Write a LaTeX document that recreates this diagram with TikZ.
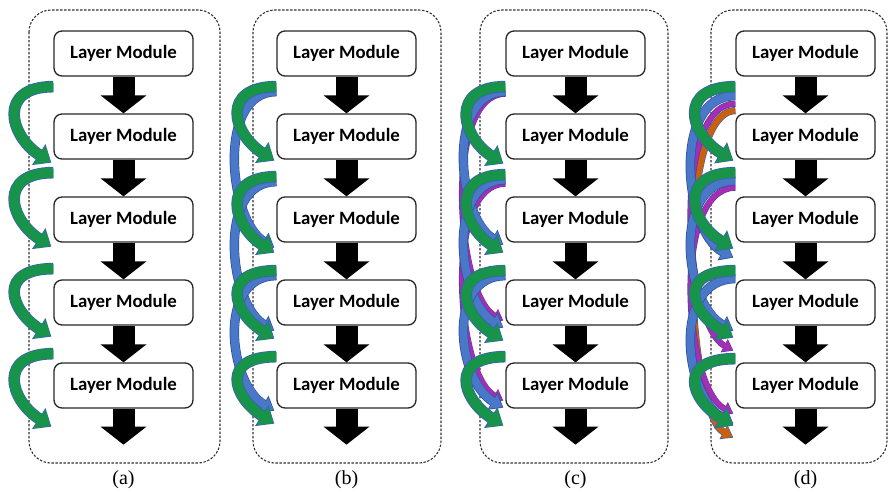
\documentclass[tikz,border=0pt]{standalone}
\usepackage{fontspec}
\setmainfont{Liberation Serif}
\newfontfamily\carlito{Carlito}
\usetikzlibrary{arrows.meta,calc}

\definecolor{skipgreen}{HTML}{17944A}
\definecolor{skipgreenedge}{HTML}{3A62B4}
\definecolor{skipblue}{HTML}{4A78C8}
\definecolor{skipblueedge}{HTML}{2E4F9E}
\definecolor{skippurple}{HTML}{A42FB4}
\definecolor{skippurpleedge}{HTML}{5B3A9E}
\definecolor{skiporange}{HTML}{C9600F}
\definecolor{skiporangeedge}{HTML}{3A5FB0}
\definecolor{boxedge}{HTML}{262626}

\tikzset{
  layer/.style={draw=boxedge, line width=1.3pt, rounded corners=8pt, fill=white,
    minimum width=139pt, minimum height=45pt, inner sep=0pt,
    font=\carlito\bfseries\fontsize{18.8}{22}\selectfont},
  flow/.style={line width=22pt, -{Triangle[width=45pt,length=18pt]}},
  frame/.style={draw=black!80, line width=1.1pt, dash pattern=on 2.4pt off 1.6pt, rounded corners=22pt},
  caption/.style={font=\fontsize{20}{24}\selectfont},
  gEdge/.style={draw=skipgreenedge, line width=11.6pt, -{Triangle[width=24pt,length=15pt]}},
  gFill/.style={draw=skipgreen, line width=10pt, shorten >=1.1pt, -{Triangle[width=21pt,length=13pt]}},
  bEdge/.style={draw=skipblueedge, line width=9.4pt, -{Triangle[width=19pt,length=12.6pt]}},
  bFill/.style={draw=skipblue, line width=8pt, shorten >=1pt, -{Triangle[width=16pt,length=11pt]}},
  pEdge/.style={draw=skippurpleedge, line width=6.2pt, -{Triangle[width=14.5pt,length=10.4pt]}},
  pFill/.style={draw=skippurple, line width=5pt, shorten >=0.9pt, -{Triangle[width=12pt,length=9pt]}},
  oEdge/.style={draw=skiporangeedge, line width=7.2pt, -{Triangle[width=15.5pt,length=11.4pt]}},
  oFill/.style={draw=skiporange, line width=6pt, shorten >=0.9pt, -{Triangle[width=13pt,length=10pt]}},
}

% skip ribbon: #1 kind, #2 panel, #3 source layer, #4 target layer,
% #5 tail drop below source, #6 head drop below target, #7 reach to the left
\newcommand\skiplink[7]{%
  \draw[#1Edge] ($(#2#3.south west)+(0,#5)$)
    .. controls ($(#2#3.south west)+(-#7,#5)$) and ($(#2#4.south west)+(12-#7,#6-27)$)
    .. ($(#2#4.south west)+(-2,#6)$);
  \draw[#1Fill] ($(#2#3.south west)+(0,#5)$)
    .. controls ($(#2#3.south west)+(-#7,#5)$) and ($(#2#4.south west)+(12-#7,#6-27)$)
    .. ($(#2#4.south west)+(-2,#6)$);
}

\begin{document}
\begin{tikzpicture}[x=1pt,y=-1pt]
\useasboundingbox (0,0) rectangle (891,496);

% dashed panel frames
\draw[frame] (29,10) rectangle (220,463);
\draw[frame] (253,10) rectangle (441,463);
\draw[frame] (480,10) rectangle (668,463);
\draw[frame] (711,10) rectangle (887,463);

% layer stacks with the main data flow
\foreach \p/\cx in {a/123.5, b/346.5, c/575.5, d/805.5} {
  \foreach \k/\cy in {1/53.5, 2/136.5, 3/219.5, 4/302.5, 5/385.5}
    \node[layer] (\p\k) at (\cx,\cy) {Layer Module};
  \coordinate (\p out) at ($(\p5.south)+(0,36)$);
  \draw[flow] (\p1.south) -- (\p2.north);
  \draw[flow] (\p2.south) -- (\p3.north);
  \draw[flow] (\p3.south) -- (\p4.north);
  \draw[flow] (\p4.south) -- (\p5.north);
  \draw[flow] (\p5.south) -- (\p out);
  \node[caption] (\p cap) at (\cx,480) {(\p)};
}

% (a) single-step skips
\skiplink{g}{a}{1}{2}{10}{3}{56}
\skiplink{g}{a}{2}{3}{13}{4}{56}
\skiplink{g}{a}{3}{4}{26}{11}{56}
\skiplink{g}{a}{4}{5}{28}{18}{56}

% (b) skips over one and two layers
\skiplink{b}{b}{1}{3}{15}{5}{60}
\skiplink{b}{b}{2}{4}{22}{5}{60}
\skiplink{b}{b}{3}{5}{33}{2}{60}
\skiplink{g}{b}{1}{2}{10}{1}{56}
\skiplink{g}{b}{2}{3}{17}{10}{56}
\skiplink{g}{b}{3}{4}{28}{13}{56}
\skiplink{g}{b}{4}{5}{31}{15}{56}

% (c) skips over up to three layers
\skiplink{p}{c}{1}{4}{17}{-5}{62}
\skiplink{p}{c}{2}{5}{24}{-8}{62}
\skiplink{b}{c}{1}{3}{15}{2}{60}
\skiplink{b}{c}{2}{4}{20}{2}{60}
\skiplink{b}{c}{3}{5}{33}{-1}{60}
\skiplink{g}{c}{1}{2}{10}{4}{56}
\skiplink{g}{c}{2}{3}{15}{10}{56}
\skiplink{g}{c}{3}{4}{28}{15}{56}
\skiplink{g}{c}{4}{5}{31}{17}{56}

% (d) dense connections
\skiplink{o}{d}{1}{5}{34}{29}{62}
\skiplink{p}{d}{1}{4}{27}{25}{64}
\skiplink{p}{d}{2}{5}{28}{5}{64}
\skiplink{b}{d}{1}{3}{19}{15}{64}
\skiplink{b}{d}{2}{4}{21}{5}{64}
\skiplink{b}{d}{3}{5}{36}{15}{64}
\skiplink{g}{d}{1}{2}{10}{1}{58}
\skiplink{g}{d}{2}{3}{13}{6}{58}
\skiplink{g}{d}{3}{4}{28}{12}{58}
\skiplink{g}{d}{4}{5}{33}{17}{58}
\end{tikzpicture}
\end{document}
